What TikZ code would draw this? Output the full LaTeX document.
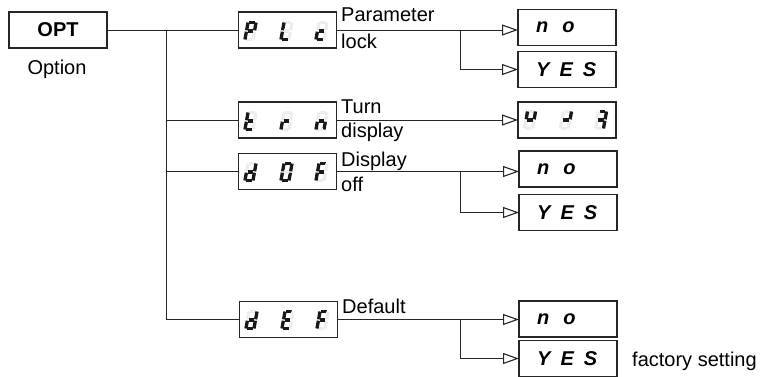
\documentclass[tikz,border=0pt]{standalone}
\usepackage{fontspec}
\setmainfont{Liberation Sans}
\usetikzlibrary{arrows.meta}
\newcommand{\sseg}[2]{\ifnum#1=1 \draw[segon] #2;\else\draw[segoff] #2;\fi}
\def\sdigbits#1#2#3#4#5#6#7\relax{%
  \sseg{#1}{(-2.8,-8.5)--(2.8,-8.5)}%
  \sseg{#2}{(4,-8.5)--(4,-0.7)}%
  \sseg{#3}{(4,0.7)--(4,8.5)}%
  \sseg{#4}{(-2.8,8.5)--(2.8,8.5)}%
  \sseg{#5}{(-4,0.7)--(-4,8.5)}%
  \sseg{#6}{(-4,-8.5)--(-4,-0.7)}%
  \sseg{#7}{(-2.8,0)--(2.8,0)}%
}
\newcommand{\sdig}[3]{\begin{scope}[shift={(#1,#2)},xslant=0.18]\sdigbits#3\relax\end{scope}}
\begin{document}
\begin{tikzpicture}[x=1pt,y=-1pt,
  box/.style={draw=black!85, line width=1.1pt, minimum width=98pt, minimum height=36pt, inner sep=0pt, outer sep=0pt},
  conn/.style={line width=1pt, draw=black!85},
  arr/.style={conn, -{Triangle[open,length=16pt,width=11pt,line width=1.1pt]}},
  lbl/.style={inner sep=0pt, anchor=base west, font=\fontsize{20}{24}\selectfont},
  val/.style={inner sep=0pt, anchor=west, font=\fontsize{20}{24}\selectfont\bfseries\itshape},
  segon/.style={draw=black!90, line width=3.3pt},
  segoff/.style={draw=black!7, line width=3.3pt},
]
\useasboundingbox (0,0) rectangle (764,376);

% boxes
\node[box, font=\fontsize{20}{24}\selectfont\bfseries] (opt) at (58,30) {OPT};
\node[lbl, anchor=base] (optl) at (57,74) {Option};

\node[box] (plc) at (287.5,30) {};
\node[box] (trn) at (287.5,120) {};
\node[box] (dof) at (287.5,171.5) {};
\node[box] (def) at (288.5,319.5) {};

\node[box] (no1) at (567,27.7) {};
\node[box] (yes1) at (567,69.5) {};
\node[box] (udr) at (567,120) {};
\node[box] (no2) at (568,169) {};
\node[box] (yes2) at (568,212.5) {};
\node[box] (no3) at (568,319) {};
\node[box] (yes3) at (568,358.5) {};

% values
\node[val] (no1t) at ([xshift=18pt]no1.west) {n\hspace{14pt}o};
\node[val] (yes1t) at ([xshift=18pt]yes1.west) {Y\hspace{10pt}E\hspace{10pt}S};
\node[val] (no2t) at ([xshift=18pt]no2.west) {n\hspace{14pt}o};
\node[val] (yes2t) at ([xshift=18pt]yes2.west) {Y\hspace{10pt}E\hspace{10pt}S};
\node[val] (no3t) at ([xshift=18pt]no3.west) {n\hspace{14pt}o};
\node[val] (yes3t) at ([xshift=18pt]yes3.west) {Y\hspace{10pt}E\hspace{10pt}S};

% seven segment displays
\sdig{250.5}{31}{1100111}\sdig{286.5}{31}{0001110}\sdig{321.5}{31}{0001101}
\sdig{250.5}{121}{0001111}\sdig{286.5}{121}{0000101}\sdig{321.5}{121}{0010101}
\sdig{250.5}{172}{0111101}\sdig{286.5}{172}{1111110}\sdig{321.5}{172}{1000111}
\sdig{251.5}{320}{0111101}\sdig{287.5}{320}{1001111}\sdig{322.5}{320}{1000111}
\sdig{530}{120}{0100011}\sdig{566}{120}{0100001}\sdig{601}{120}{1110001}

% connectors
\coordinate (t0) at (166,30);
\draw[conn] (opt.east) -- (plc.west);
\draw[conn] (t0) |- (def.west);
\draw[conn] (t0 |- trn.west) -- (trn.west);
\draw[conn] (t0 |- dof.west) -- (dof.west);

\coordinate (b1) at (460,30);
\coordinate (b2) at (460.5,171.5);
\coordinate (b3) at (460,319.5);
\draw[arr] (plc.east) -- (plc.east -| no1.west);
\draw[arr] (b1) |- (yes1.west);
\draw[arr] (trn.east) -- (trn.east -| udr.west);
\draw[arr] (dof.east) -- (dof.east -| no2.west);
\draw[arr] (b2) |- (yes2.west);
\draw[arr] (def.east) -- (def.east -| no3.west);
\draw[arr] (b3) |- (yes3.west);

% labels
\node[lbl] (l1a) at (341,21) {Parameter};
\node[lbl] (l1b) at (341,48) {lock};
\node[lbl] (l2a) at (341,113) {Turn};
\node[lbl] (l2b) at (341,137) {display};
\node[lbl] (l3a) at (341,166.5) {Display};
\node[lbl] (l3b) at (341,191.5) {off};
\node[lbl] (l4a) at (342,313) {Default};
\node[lbl] (fs) at (632,366) {factory setting};
\end{tikzpicture}
\end{document}
